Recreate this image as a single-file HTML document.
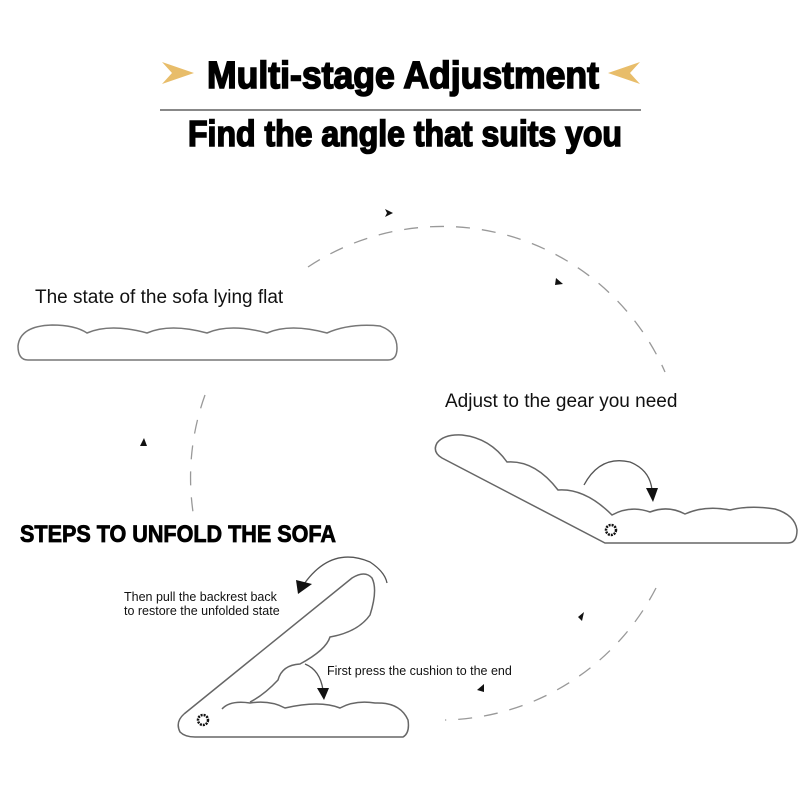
<!DOCTYPE html>
<html><head><style>
html,body{margin:0;padding:0;background:#fff;}
svg{display:block;}
.t{font-family:"Liberation Sans",sans-serif;}
</style></head><body>
<svg width="800" height="800" viewBox="0 0 800 800" xmlns="http://www.w3.org/2000/svg">
<!-- title -->
<polygon points="162,62 194,73 162,84 172,73" fill="#e8bd6a"/>
<polygon points="640,62 608,73 640,84 630,73" fill="#e8bd6a"/>
<text x="403" y="88" text-anchor="middle" class="t" font-size="38" font-weight="bold" stroke="#000" stroke-width="1.6" textLength="392" lengthAdjust="spacingAndGlyphs">Multi-stage Adjustment</text>
<line x1="160" y1="110" x2="641" y2="110" stroke="#888" stroke-width="2"/>
<text x="405" y="146" text-anchor="middle" class="t" font-size="36" font-weight="bold" stroke="#000" stroke-width="1.6" textLength="434" lengthAdjust="spacingAndGlyphs">Find the angle that suits you</text>

<!-- dashed circle arcs -->
<g fill="none" stroke="#999" stroke-width="1.3" stroke-dasharray="14,12">
<path d="M308,267 A243,243 0 0 1 665,372"/>
<path d="M205,395 A243,243 0 0 0 193,512"/>
<path d="M656,588 A243,243 0 0 1 445,720"/>
</g>
<g fill="#111">
<polygon points="385,209 393,213 385,217 387,213"/>
<polygon points="556,278 563,284 555,285"/>
<polygon points="140,446 144,438 147,446"/>
<polygon points="578,617 584,612 582,621"/>
<polygon points="477,690 484,684 484,692"/>
</g>

<!-- flat sofa -->
<text x="35" y="303" class="t" font-size="19" fill="#111">The state of the sofa lying flat</text>
<path d="M28,360 Q18,360 18,346 Q20,326 52,325 Q75,325 87,333 Q110,323 147,333 Q170,323 207,333 Q230,323 267,333 Q290,323 327,333 Q350,323 380,326 Q397,332 397,348 Q397,360 388,360 Z" fill="#fff" stroke="#777" stroke-width="1.5"/>

<!-- middle sofa -->
<text x="445" y="407" class="t" font-size="19" fill="#111">Adjust to the gear you need</text>
<path d="M442,458 Q432,452 437,443 Q444,434 462,435 Q490,438 507,462 Q535,460 558,490 Q585,488 612,515 Q630,505 650,512 Q668,505 685,514 Q705,505 730,510 Q750,505 775,509 Q795,515 797,530 Q797,543 788,543 L605,543 Z" fill="#fff" stroke="#666" stroke-width="1.5"/>
<circle cx="611" cy="530" r="5" fill="none" stroke="#111" stroke-width="2.5" stroke-dasharray="2,1"/>
<path d="M584,485 Q600,455 630,462 Q650,470 652,490" fill="none" stroke="#555" stroke-width="1.3"/>
<polygon points="646,488 658,488 653,502" fill="#111"/>

<!-- steps title -->
<text x="20" y="542" class="t" font-size="24" font-weight="bold" stroke="#000" stroke-width="0.8" textLength="316" lengthAdjust="spacingAndGlyphs">STEPS TO UNFOLD THE SOFA</text>

<!-- bottom sofa -->
<text x="124" y="601" class="t" font-size="12.5" fill="#111">Then pull the backrest back</text>
<text x="124" y="615" class="t" font-size="12.5" fill="#111">to restore the unfolded state</text>
<text x="327" y="675" class="t" font-size="12.5" fill="#111">First press the cushion to the end</text>
<path d="M302,587 Q330,545 370,562 Q385,572 387,583" fill="none" stroke="#555" stroke-width="1.3"/>
<polygon points="296,580 312,584 298,594" fill="#111"/>
<path d="M184,714 L352,578 Q365,570 372,578 Q378,590 370,615 Q358,632 330,637 Q326,650 300,664 Q282,665 278,680 Q264,695 250,702" fill="#fff" stroke="#666" stroke-width="1.5"/>
<path d="M184,714 Q175,722 180,732 Q185,737 195,737 L403,737 Q410,733 408,720 Q400,702 375,703 Q355,700 340,708 Q320,700 285,708 Q270,700 250,703 Q230,700 222,709" fill="none" stroke="#666" stroke-width="1.5"/>
<circle cx="203" cy="720" r="5" fill="none" stroke="#111" stroke-width="2.5" stroke-dasharray="2,1"/>
<path d="M305,664 Q320,670 323,690" fill="none" stroke="#555" stroke-width="1.3"/>
<polygon points="317,688 329,688 324,700" fill="#111"/>
</svg>
</body></html>
